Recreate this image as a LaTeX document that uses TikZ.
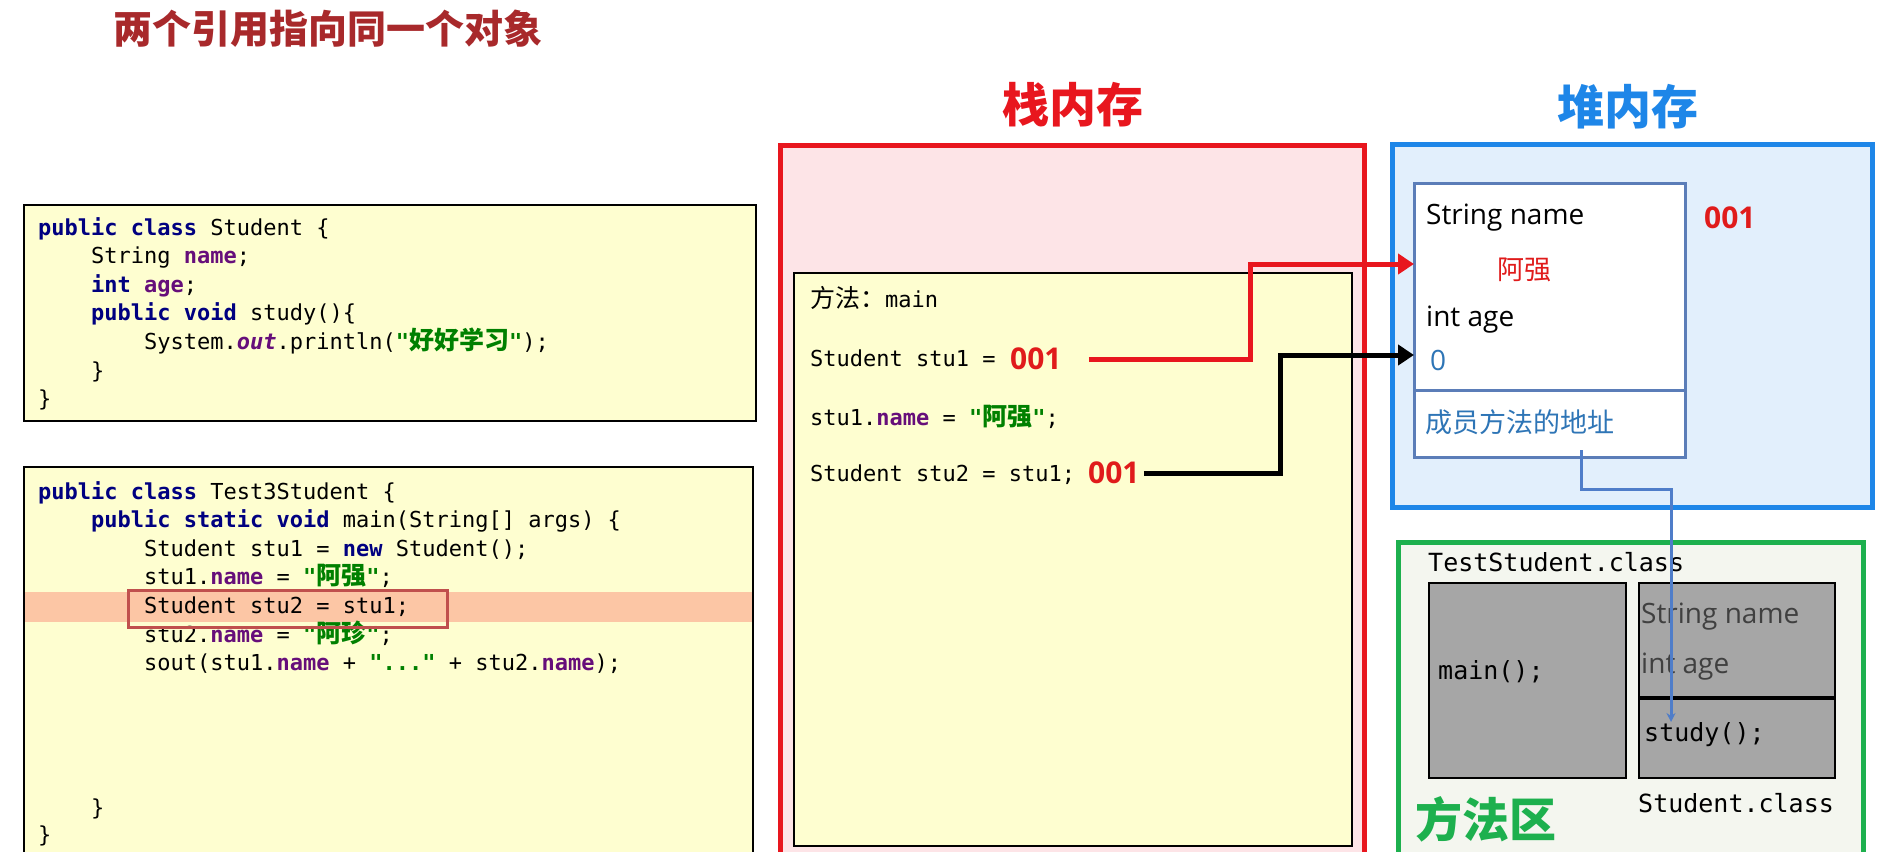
\documentclass[tikz,border=0pt]{standalone}
\usepackage{fontspec}
\setmainfont{Open Sans}
\setmonofont{DejaVu Sans Mono}
\newfontfamily\cjk{Noto Sans CJK SC}
\usetikzlibrary{arrows.meta}

\definecolor{titlered}{HTML}{A8292B}
\definecolor{stackred}{HTML}{E8161E}
\definecolor{stackfill}{HTML}{FDE4E7}
\definecolor{heapblue}{HTML}{1E86E8}
\definecolor{heapfill}{HTML}{E2EFFC}
\definecolor{areagreen}{HTML}{1DB04E}
\definecolor{areafill}{HTML}{F4F6EF}
\definecolor{codefill}{HTML}{FEFED0}
\definecolor{objborder}{HTML}{5B7DB8}
\definecolor{methodline}{HTML}{4F7DC9}
\definecolor{valblue}{HTML}{2E75B6}
\definecolor{addrred}{HTML}{E01B1B}
\definecolor{kwnavy}{HTML}{000080}
\definecolor{fldpurple}{HTML}{660E7A}
\definecolor{strgreen}{HTML}{008000}
\definecolor{hlband}{HTML}{FCC6A5}
\definecolor{hlbox}{HTML}{C0504D}
\definecolor{boxgray}{HTML}{A6A6A6}

\newcommand{\kwd}[1]{{\color{kwnavy}\bfseries #1}}
\newcommand{\fld}[1]{{\color{fldpurple}\bfseries #1}}
\newcommand{\strg}[1]{{\color{strgreen}\bfseries #1}}
\newcommand{\zh}[1]{{\cjk\fontsize{25}{26}\selectfont #1}}

\begin{document}
\begin{tikzpicture}[x=1pt, y=-1pt,
    box/.style={anchor=north west, inner sep=0, outer sep=0},
    codebox/.style={box, draw, line width=2pt, fill=codefill},
    codeline/.style={anchor=base west, inner sep=0, font=\ttfamily\fontsize{22}{26}\selectfont},
    stackline/.style={anchor=base west, inner sep=0, font=\ttfamily\fontsize{22}{26}\selectfont},
    classline/.style={anchor=west, inner sep=0, font=\ttfamily\fontsize{25}{28}\selectfont},
    memtitle/.style={font=\cjk\bfseries\fontsize{47}{48}\selectfont},
    field/.style={anchor=west, inner sep=0, font=\fontsize{28}{30}\selectfont},
    zhfield/.style={anchor=west, inner sep=0, font=\cjk\fontsize{27}{30}\selectfont},
    addr/.style={anchor=west, inner sep=0, text=addrred, font=\bfseries\fontsize{30}{32}\selectfont},
    graybox/.style={box, draw, line width=2.5pt, fill=boxgray},
    pointer/.style={line width=5pt, -{Triangle[length=16pt, width=20pt]}}]

\useasboundingbox (0,0) rectangle (1878,851);

\node[text=titlered, font=\cjk\bfseries\fontsize{39}{40}\selectfont] (title) at (328,29) {两个引用指向同一个对象};

\node[codebox, minimum width=732, minimum height=216] (cls) at (24,205) {};
\foreach \lv/\ln [count=\i from 0] in {0/{\kwd{public class} Student \{}, 1/{String \fld{name};}, 1/{\kwd{int} \fld{age};}, 1/{\kwd{public void} study()\{}, 2/{System.\fld{\itshape out}.println(\strg{"\zh{好好学习}"});}, 1/{\}}, 0/{\}}}
  \node[codeline] (cls-\i) at (38+53*\lv, 235+28.6*\i) {\ln};

\node[codebox, minimum width=729, minimum height=400] (run) at (24,467) {};
\fill[hlband] (25,592) rectangle (752,622);
\foreach \lv/\ln [count=\i from 0] in {0/{\kwd{public class} Test3Student \{}, 1/{\kwd{public static void} main(String[] args) \{}, 2/{Student stu1 = \kwd{new} Student();}, 2/{stu1.\fld{name} = \strg{"\zh{阿强}"};}, 2/{Student stu2 = stu1;}, 2/{stu2.\fld{name} = \strg{"\zh{阿珍}"};}, 2/{sout(stu1.\fld{name} + \strg{"..."} + stu2.\fld{name});}}
  \node[codeline] (run-\i) at (38+53*\lv, 499+28.6*\i) {\ln};
\node[codeline] (run-7) at (91,815) {\}};
\node[codeline] (run-8) at (38,842) {\}};
\draw[hlbox, line width=3pt] (128,590) rectangle (447,627);

\node[box, draw=stackred, fill=stackfill, line width=5pt, minimum width=584, minimum height=730] (stack) at (780,145) {};
\node[memtitle, text=stackred] (stacktitle) at (1073,105) {栈内存};
\node[box, draw, fill=codefill, line width=1.5pt, minimum width=558, minimum height=573] (frame) at (794,273) {};
\node[stackline] (method) at (810,307) {\zh{方法：}main};
\node[stackline] (stu1) at (810,366) {Student stu1 =};
\node[addr] (ref1) at (1010,359) {001};
\node[stackline] (setname) at (810,425) {stu1.\fld{name} = \strg{"\zh{阿强}"};};
\node[stackline] (stu2) at (810,481) {Student stu2 = stu1;};
\node[addr] (ref2) at (1088,473) {001};

\node[box, draw=heapblue, fill=heapfill, line width=5pt, minimum width=480, minimum height=363] (heap) at (1392,144) {};
\node[memtitle, text=heapblue] (heaptitle) at (1628,107) {堆内存};
\node[box, draw=objborder, fill=white, line width=3pt, minimum width=271, minimum height=207] (objfields) at (1414,183) {};
\node[box, draw=objborder, fill=white, line width=3pt, minimum width=271, minimum height=67] (objmethods) at (1414,390) {};
\node[field] (fname) at (1426,218) {String name};
\node[zhfield, text=addrred] (fvalue) at (1497,270) {阿强};
\node[field] (fage) at (1426,320) {int age};
\node[field, text=valblue] (fagevalue) at (1430,360) {0};
\node[zhfield, text=valblue] (maddr) at (1425,422) {成员方法的地址};
\node[addr] (objaddr) at (1704,218) {001};

\node[box, draw=areagreen, fill=areafill, line width=5pt, minimum width=465, minimum height=330] (area) at (1398,542) {};
\node[classline] (testcls) at (1428,562) {TestStudent.class};
\node[graybox, minimum width=197, minimum height=195] (mainm) at (1429,583) {};
\node[classline] (mainsig) at (1438,672) {main();};
\node[graybox, minimum width=196, minimum height=115] (sfields) at (1639,583) {};
\node[graybox, minimum width=196, minimum height=80] (smethods) at (1639,698) {};
\draw[line width=4pt] (sfields.south west) -- (sfields.south east);
\node[field, text=darkgray] (sname) at (1641,617) {String name};
\node[field, text=darkgray] (sage) at (1641,667) {int age};
\node[classline] (study) at (1644,735) {study();};
\node[classline] (stucls) at (1638,803) {Student.class};
\node[memtitle, text=areagreen] (areatitle) at (1486,819) {方法区};
\coordinate (studyref) at (1671,722);

\draw[pointer, stackred] ([xshift=27pt]ref1.east) -- ++(162,0) |- ([yshift=22.5pt]objfields.west);
\draw[pointer] ([xshift=4pt]ref2.east) -- ++(137,0) |- ([yshift=-68.5pt]objfields.west);
\draw[methodline, line width=3pt, -{Stealth[length=9pt, width=9pt]}] ([xshift=31.5pt, yshift=7pt]objmethods.south) -- ++(0,39) -| (studyref);
\end{tikzpicture}
\end{document}
